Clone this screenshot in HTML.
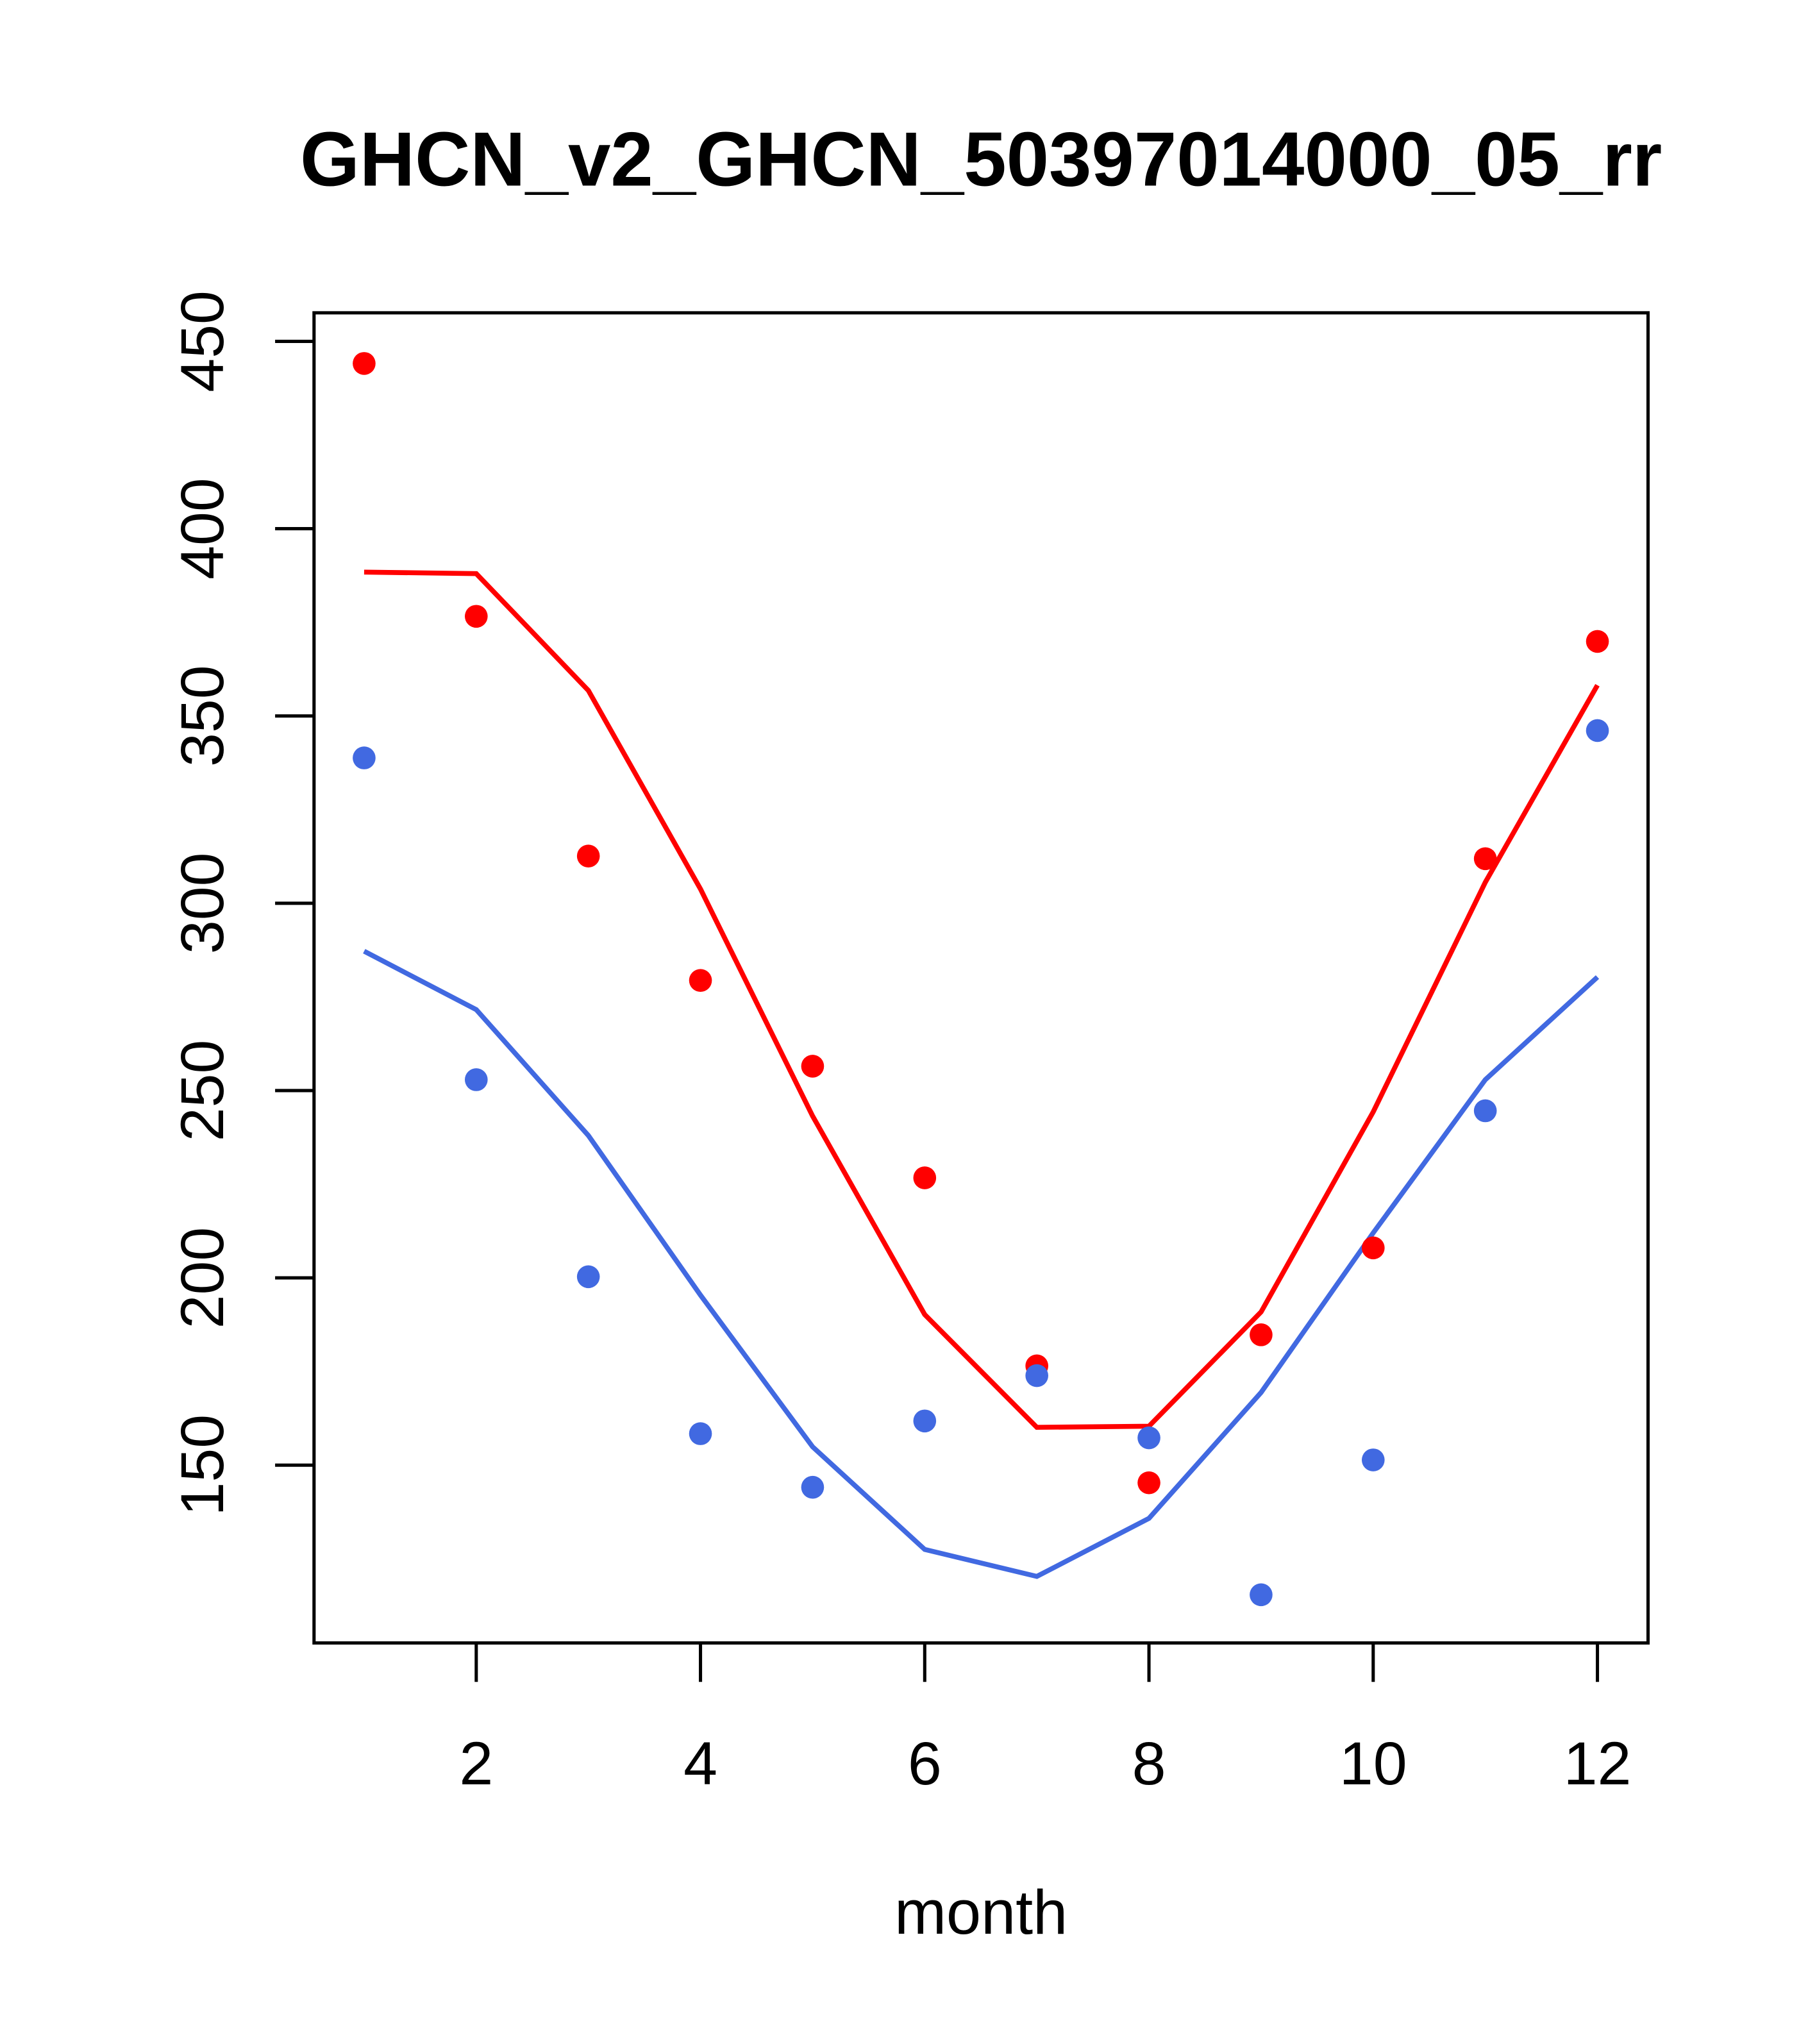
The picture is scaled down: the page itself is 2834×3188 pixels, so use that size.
<!DOCTYPE html>
<html><head><meta charset="utf-8"><style>html,body{margin:0;padding:0;background:#fff}svg{display:block}</style></head>
<body>
<svg id="chart" width="2834" height="3188" viewBox="0 0 1400.2 1575" xmlns="http://www.w3.org/2000/svg" font-family="'Liberation Sans', sans-serif">
<rect width="1400.2" height="1575" fill="#fff"/>
<text x="756" y="143" text-anchor="middle" font-size="59" font-weight="bold">GHCN_v2_GHCN_50397014000_05_rr</text>
<rect x="242" y="241" width="1028" height="1025" fill="none" stroke="#000" stroke-width="2.5"/>
<text x="756" y="1490" text-anchor="middle" font-size="48">month</text>
<g id="xaxis"></g>
<g id="yaxis"></g>
<g id="marks"></g>
</svg>
<script>
const months = [1,2,3,4,5,6,7,8,9,10,11,12];
const redPoints = [444.1,376.6,312.6,279.4,256.5,226.7,176.5,145.3,184.8,208.0,311.9,369.9];
const redLine = [388.4,388.0,356.8,303.8,243.2,190.2,160.1,160.4,190.9,244.3,305.6,358.2];
const bluePoints = [338.8,252.9,200.3,158.4,144.1,161.8,173.9,157.3,115.4,151.4,244.6,346.1];
const blueLine = [287.2,271.6,238.0,195.4,154.9,127.5,120.3,135.8,169.4,212.0,252.9,280.3];
const xTicks = [2,4,6,8,10,12];
const yTicks = [150,200,250,300,350,400,450];

const NS = "http://www.w3.org/2000/svg";
function xs(m){ return 367 + (m-2)*86.4; }
function ys(v){ return 263 + (450-v)*866/300; }
function mk(tag, attrs, parent){ const e=document.createElementNS(NS,tag); for(const k in attrs) e.setAttribute(k,attrs[k]); parent.appendChild(e); return e; }

const xa = document.getElementById('xaxis');
xTicks.forEach(t=>{
  const l = mk('line',{x1:xs(t),x2:xs(t),y1:1266,y2:1296,stroke:'#000','stroke-width':2.5},xa);
  
  
  const tx = mk('text',{x:xs(t),y:1375,'text-anchor':'middle','font-size':47},xa);
  tx.textContent = t;
  
  
});
const ya = document.getElementById('yaxis');
yTicks.forEach(t=>{
  const l = mk('line',{x1:212,x2:242,y1:ys(t),y2:ys(t),stroke:'#000','stroke-width':2.5},ya);
  
  
  const tx = mk('text',{x:0,y:0,'text-anchor':'middle','font-size':47,transform:`translate(172,${ys(t)}) rotate(-90)`},ya);
  tx.textContent = t;
  
  
});
const g = document.getElementById('marks');
function line(vals,color,name){
  const p = mk('polyline',{points:vals.map((v,i)=>xs(months[i])+','+ys(v)).join(' '),fill:'none',stroke:color,'stroke-width':3.8},g);
  
  
}
function pts(vals,color,name){
  vals.forEach((v,i)=>{
    const c = mk('circle',{cx:xs(months[i]),cy:ys(v),r:8.8,fill:color},g);
    
    
  });
}
line(redLine,'#ff0000','red-line');
line(blueLine,'#4169e1','blue-line');
pts(redPoints,'#ff0000','red-point');
pts(bluePoints,'#4169e1','blue-point');
</script>
</body></html>
